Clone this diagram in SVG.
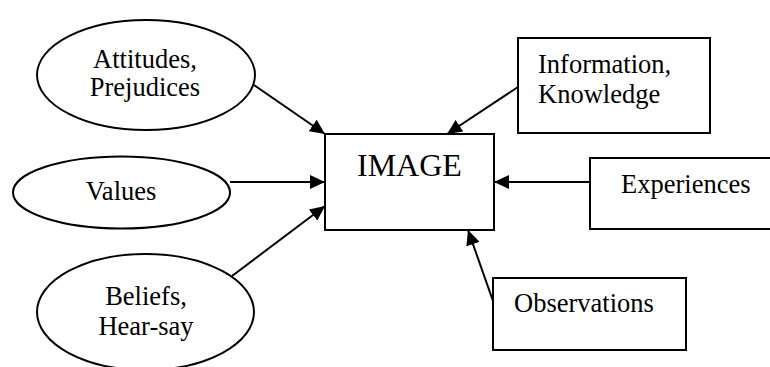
<svg xmlns="http://www.w3.org/2000/svg" width="770" height="367" viewBox="0 0 770 367">
  <style>
    .shape { fill: #ffffff; stroke: #000000; stroke-width: 2; }
    .label { font-family: "Liberation Serif", "Times New Roman", serif; font-size: 26.5px; fill: #000000; }
    .mid { text-anchor: middle; }
    .big { font-size: 32px; }
    .link { stroke: #000000; stroke-width: 2; fill: none; marker-end: url(#head); }
  </style>
  <defs>
    <marker id="head" markerUnits="userSpaceOnUse" markerWidth="16" markerHeight="14" refX="15" refY="7" orient="auto">
      <path d="M0,0 L15,7 L0,14 Z" fill="#000000"/>
    </marker>
  </defs>
  <rect width="770" height="367" fill="#ffffff"/>

  <g id="connectors">
    <line class="link" x1="254" y1="85" x2="325" y2="134"/>
    <line class="link" x1="230" y1="182" x2="325" y2="182"/>
    <line class="link" x1="232" y1="276" x2="325" y2="206"/>
    <line class="link" x1="518" y1="87" x2="447" y2="134"/>
    <line class="link" x1="590" y1="182" x2="494" y2="182"/>
    <line class="link" x1="493" y1="301" x2="468" y2="230"/>
  </g>

  <g id="image">
    <rect class="shape" x="325" y="134" width="169" height="96"/>
    <text class="label big" x="357" y="176">IMAGE</text>
  </g>

  <g id="attitudes">
    <ellipse class="shape" cx="146" cy="75" rx="109" ry="55"/>
    <text class="label mid" x="145" y="68">Attitudes,</text>
    <text class="label mid" x="145" y="96">Prejudices</text>
  </g>

  <g id="values">
    <ellipse class="shape" cx="121.5" cy="192.5" rx="108.5" ry="36"/>
    <text class="label mid" x="121" y="200">Values</text>
  </g>

  <g id="beliefs">
    <ellipse class="shape" cx="145.5" cy="312" rx="108.5" ry="58"/>
    <text class="label mid" x="146" y="305">Beliefs,</text>
    <text class="label mid" x="146" y="335">Hear-say</text>
  </g>

  <g id="information">
    <rect class="shape" x="518" y="38" width="192" height="95"/>
    <text class="label" x="538" y="73">Information,</text>
    <text class="label" x="538" y="103">Knowledge</text>
  </g>

  <g id="experiences">
    <rect class="shape" x="590" y="158" width="182" height="71"/>
    <text class="label" x="621" y="193">Experiences</text>
  </g>

  <g id="observations">
    <rect class="shape" x="493" y="278" width="193" height="72"/>
    <text class="label" x="514" y="312">Observations</text>
  </g>
</svg>
